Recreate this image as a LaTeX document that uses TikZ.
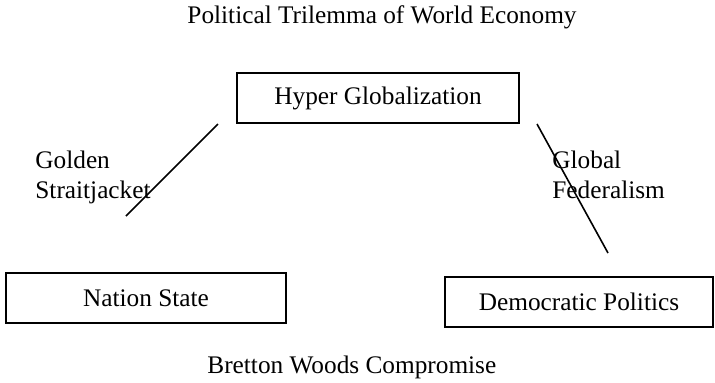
\documentclass[tikz,border=0pt]{standalone}
\usepackage{fontspec}
\setmainfont{Liberation Serif}
\usepackage{tikz}
\usetikzlibrary{positioning}
\usetikzlibrary{calc}

\begin{document}
\begin{tikzpicture} [
    x=0.5pt, y=-0.5pt,              % one unit is one pixel of the reference
    font=\fontsize{12.65}{15}\selectfont,
    ]
% -------------------------------------------------
\tikzset{
  box/.style={draw, thick, rectangle, inner sep=0pt, align=center},
  line/.style={draw, thick},
  lbl/.style={inner sep=0pt, align=left}
}

    \useasboundingbox (0,0) rectangle (715,382);                    % page size

    \node [anchor=base] (ttl) at (382,23) {Political Trilemma of World Economy};

    \node [box, minimum width=141pt, minimum height=25pt] (hyp) at (378,98) {Hyper Globalization};
    \node [box, minimum width=140pt, minimum height=25pt] (nat) at (146,298) {Nation State};
    \node [box, minimum width=134pt, minimum height=25pt] (dem) at (579,302) {Democratic Politics};

    \node [anchor=base west, inner sep=0pt] (bwc) at (207,373) {Bretton Woods Compromise};

    \node [lbl, anchor=north west] (gsj) at (35,151) {Golden\\Straitjacket};
    \node [lbl, anchor=north west] (gfd) at (552,151) {Global\\Federalism};

    \coordinate (gsa) at (218,124);                                 % golden straitjacket: top end
    \coordinate (gsb) at (126,216);                                 % golden straitjacket: bottom end
    \coordinate (gfa) at (537,124);                                 % global federalism: top end
    \coordinate (gfb) at (608,253);                                 % global federalism: bottom end

    \path [line] (gsa) -- (gsb);
    \path [line] (gfa) -- (gfb);

\end{tikzpicture}
\end{document}
